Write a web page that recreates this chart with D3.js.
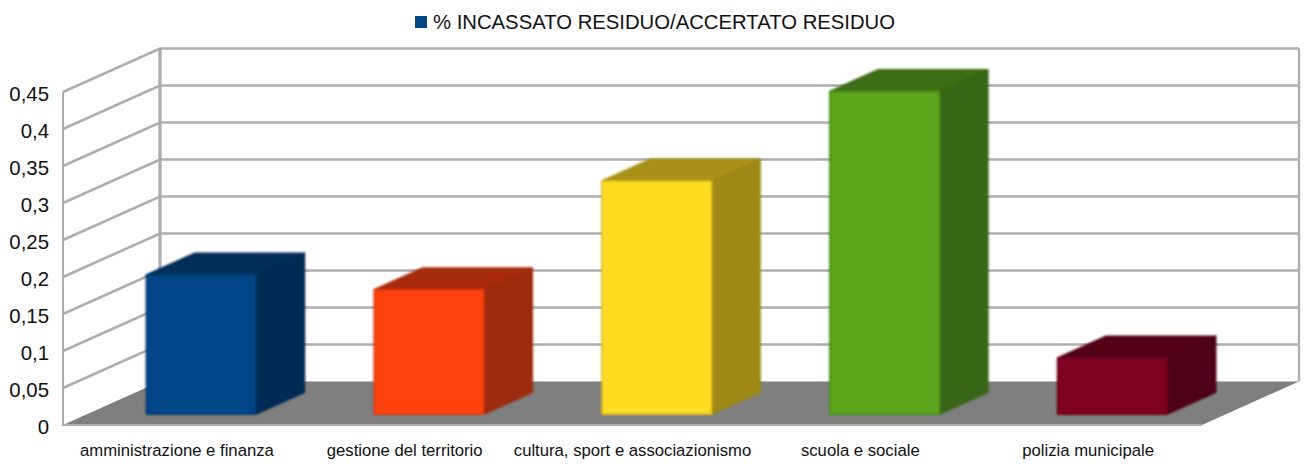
<!DOCTYPE html>
<html>
<head>
<meta charset="utf-8">
<script src="https://cdn.jsdelivr.net/npm/d3@7"></script>
<style>
  html, body { margin: 0; padding: 0; background: #fff; }
  svg { display: block; }
  text { font-family: "Liberation Sans", Arial, sans-serif; fill: #111; }
</style>
</head>
<body>
<svg id="chart" width="1308" height="464"></svg>
<script>
const categories = ["amministrazione e finanza", "gestione del territorio", "cultura, sport e associazionismo", "scuola e sociale", "polizia municipale"];
const values = [0.188, 0.168, 0.315, 0.436, 0.076];
const barColors = ["#004586", "#ff420e", "#ffdb20", "#5ba51d", "#7e0021"];
const yTicks = [0, 0.05, 0.1, 0.15, 0.2, 0.25, 0.3, 0.35, 0.4, 0.45];
const seriesName = "% INCASSATO RESIDUO/ACCERTATO RESIDUO";

const svg = d3.select("#chart");

// front plane of the box, the back wall is this plane shifted by (depthX, depthY)
const depthX = 97, depthY = -43.5;
const x = d3.scaleBand().domain(categories).range([63, 1202]).paddingInner(0.51).paddingOuter(0.255);
const y = d3.scaleLinear().domain([0, 0.45]).range([425, 92]);

const project = (px, v, z) => [px + depthX * z, y(v) + depthY * z];
const poly = (pts) => "M" + pts.map(p => p.join(",")).join("L") + "Z";
const shade = (c, k) => {
    const r = d3.rgb(c);
    return d3.rgb(r.r * k, r.g * k, r.b * k).formatHex();
};

const defs = svg.append("defs");
defs.append("filter").attr("id", "soft")
    .attr("x", "-5%").attr("y", "-5%").attr("width", "110%").attr("height", "110%")
    .append("feGaussianBlur").attr("stdDeviation", 0.8);

// Walls
const x0 = x.range()[0], x1 = x.range()[1];
const walls = svg.append("g").attr("fill", "none").attr("stroke", "#aeaeae");

walls.selectAll("path.grid")
    .data(yTicks.slice(1))
    .enter().append("path")
    .attr("class", "grid")
    .attr("stroke-width", 2.6)
    .attr("d", d => "M" + project(x0, d, 0) + "L" + project(x0, d, 1) + "L" + project(x1, d, 1));

walls.append("path")
    .attr("stroke-width", 2)
    .attr("d", "M" + project(x0, 0, 0) + "L" + project(x0, 0.45, 0));
walls.append("path")
    .attr("stroke-width", 3.4)
    .attr("d", "M" + project(x0, 0, 1) + "L" + project(x0, 0.45, 1));
walls.append("path")
    .attr("stroke-width", 2.4)
    .attr("d", "M" + project(x1, 0, 1) + "L" + project(x1, 0.45, 1));

// Floor
svg.append("path")
    .attr("fill", "#7f7f7f")
    .attr("d", poly([project(x0, 0, 0), project(x1, 0, 0), project(x1, 0, 1), project(x0, 0, 1)]));
svg.append("path")
    .attr("fill", "none").attr("stroke", "#aeaeae").attr("stroke-width", 2)
    .attr("d", "M" + project(x0 - 1, 0, 0) + "L" + project(x1, 0, 0));

// Bars
const zFront = 0.25, zBack = 0.75;
const bars = svg.append("g").selectAll("g")
    .data(categories.map((c, i) => ({ name: c, value: values[i], color: barColors[i] })))
    .enter().append("g")
    .attr("filter", "url(#soft)");

bars.append("path")
    .attr("fill", d => shade(d.color, 0.66))
    .attr("stroke", d => shade(d.color, 0.66))
    .attr("stroke-linejoin", "round").attr("stroke-width", 1.5)
    .attr("d", d => {
        const l = x(d.name) + 1, r = l + x.bandwidth() - 2;
        return poly([project(l, d.value, zFront), project(r, d.value, zFront), project(r, d.value, zBack), project(l, d.value, zBack)]);
    });
bars.append("path")
    .attr("fill", d => shade(d.color, 0.62))
    .attr("stroke", d => shade(d.color, 0.62))
    .attr("stroke-linejoin", "round").attr("stroke-width", 1.5)
    .attr("d", d => {
        const r = x(d.name) + x.bandwidth() - 1;
        return poly([project(r, 0, zFront), project(r, d.value, zFront), project(r, d.value, zBack), project(r, 0, zBack)]);
    });
bars.append("path")
    .attr("fill", d => d.color)
    .attr("stroke", d => shade(d.color, 0.85))
    .attr("stroke-linejoin", "round").attr("stroke-width", 1.5)
    .attr("d", d => {
        const l = x(d.name) + 1, r = l + x.bandwidth() - 2;
        return poly([project(l, 0, zFront), project(l, d.value, zFront), project(r, d.value, zFront), project(r, 0, zFront)]);
    });

// Axes
const yAxis = d3.axisLeft(y)
    .tickValues(yTicks)
    .tickSize(0)
    .tickPadding(14)
    .tickFormat(d => String(d).replace(".", ","));
svg.append("g").attr("transform", "translate(63,0)").call(yAxis)
    .call(g => g.select(".domain").remove())
    .selectAll("text")
    .style("font-size", "20.4px")
    .attr("dy", "0.42em");

const xAxis = d3.axisBottom(x).tickSize(0).tickPadding(19);
svg.append("g").attr("transform", "translate(0,425)").call(xAxis)
    .call(g => g.select(".domain").remove())
    .selectAll("text")
    .style("font-size", "16.7px");

// Legend
svg.append("rect")
    .attr("x", 415).attr("y", 16).attr("width", 12).attr("height", 12)
    .attr("fill", barColors[0]);
svg.append("text")
    .attr("x", 433).attr("y", 29)
    .style("font-size", "20.3px")
    .text(seriesName);
</script>
</body>
</html>
